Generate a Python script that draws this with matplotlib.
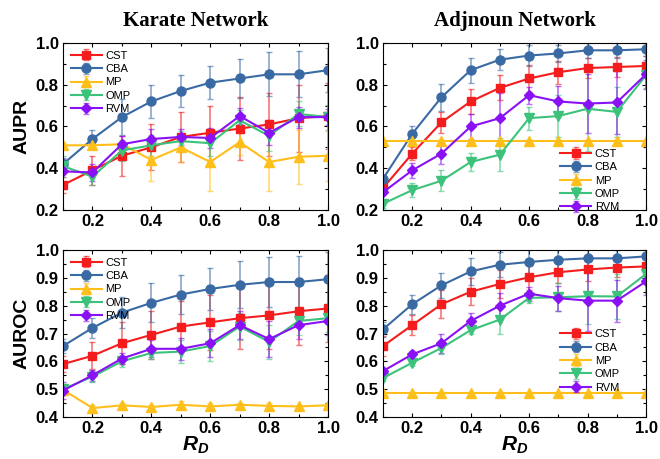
import numpy as np
import matplotlib
matplotlib.use("Agg")
import matplotlib.pyplot as plt
from matplotlib.ticker import MultipleLocator

# sampling ratio R_D
rd = [0.1, 0.2, 0.3, 0.4, 0.5, 0.6, 0.7, 0.8, 0.9, 1.0]
methods = ["CST", "CBA", "MP", "OMP", "RVM"]

# Karate AUPR (mean, err)
kar_aupr_cst = [0.32, 0.39, 0.46, 0.50, 0.55, 0.57, 0.59, 0.61, 0.64, 0.65]
kar_aupr_cst_e = [0.04, 0.07, 0.095, 0.11, 0.12, 0.13, 0.15, 0.15, 0.16, 0.16]
kar_aupr_cba = [0.42, 0.54, 0.645, 0.72, 0.77, 0.81, 0.83, 0.85, 0.85, 0.87]
kar_aupr_cba_e = [0.03, 0.045, 0.085, 0.08, 0.075, 0.08, 0.095, 0.105, 0.11, 0.105]
kar_aupr_mp = [0.51, 0.51, 0.515, 0.44, 0.50, 0.43, 0.525, 0.43, 0.455, 0.46]
kar_aupr_mp_e = [0.01, 0.01, 0.01, 0.10, 0.07, 0.14, 0.06, 0.14, 0.13, 0.12]
kar_aupr_omp = [0.41, 0.36, 0.485, 0.51, 0.53, 0.52, 0.63, 0.555, 0.66, 0.645]
kar_aupr_omp_e = [0.05, 0.04, 0.05, 0.05, 0.05, 0.06, 0.05, 0.07, 0.06, 0.06]
kar_aupr_rvm = [0.385, 0.38, 0.515, 0.54, 0.55, 0.545, 0.65, 0.57, 0.645, 0.645]
kar_aupr_rvm_e = [0.06, 0.04, 0.04, 0.05, 0.04, 0.05, 0.04, 0.06, 0.05, 0.04]

# Adjnoun AUPR
adj_aupr_cst = [0.305, 0.47, 0.62, 0.72, 0.785, 0.83, 0.86, 0.88, 0.885, 0.89]
adj_aupr_cst_e = [0.02, 0.03, 0.05, 0.058, 0.06, 0.065, 0.055, 0.05, 0.05, 0.05]
adj_aupr_cba = [0.35, 0.565, 0.74, 0.87, 0.92, 0.94, 0.95, 0.965, 0.965, 0.97]
adj_aupr_cba_e = [0.02, 0.035, 0.065, 0.06, 0.05, 0.05, 0.04, 0.035, 0.035, 0.03]
adj_aupr_mp = [0.53, 0.53, 0.53, 0.53, 0.53, 0.53, 0.53, 0.53, 0.53, 0.53]
adj_aupr_mp_e = [0.005] * 10
adj_aupr_omp = [0.23, 0.295, 0.34, 0.43, 0.465, 0.64, 0.65, 0.685, 0.67, 0.845]
adj_aupr_omp_e = [0.02, 0.035, 0.05, 0.045, 0.08, 0.055, 0.1, 0.2, 0.12, 0.06]
adj_aupr_rvm = [0.285, 0.39, 0.47, 0.60, 0.64, 0.75, 0.72, 0.71, 0.715, 0.85]
adj_aupr_rvm_e = [0.03, 0.035, 0.05, 0.06, 0.12, 0.04, 0.075, 0.14, 0.15, 0.07]

# Karate AUROC
kar_auroc_cst = [0.59, 0.62, 0.665, 0.695, 0.725, 0.74, 0.755, 0.765, 0.78, 0.79]
kar_auroc_cst_e = [0.028, 0.048, 0.075, 0.085, 0.09, 0.1, 0.11, 0.12, 0.12, 0.12]
kar_auroc_cba = [0.655, 0.72, 0.775, 0.81, 0.84, 0.86, 0.875, 0.885, 0.885, 0.895]
kar_auroc_cba_e = [0.025, 0.037, 0.057, 0.07, 0.07, 0.077, 0.085, 0.09, 0.095, 0.097]
kar_auroc_mp = [0.498, 0.432, 0.442, 0.436, 0.444, 0.438, 0.444, 0.44, 0.438, 0.442]
kar_auroc_mp_e = [0.01, 0.012, 0.01, 0.008, 0.012, 0.012, 0.008, 0.012, 0.006, 0.01]
kar_auroc_omp = [0.50, 0.545, 0.60, 0.63, 0.635, 0.655, 0.725, 0.67, 0.745, 0.755]
kar_auroc_omp_e = [0.02, 0.02, 0.02, 0.02, 0.04, 0.055, 0.05, 0.06, 0.05, 0.05]
kar_auroc_rvm = [0.495, 0.55, 0.61, 0.645, 0.645, 0.665, 0.73, 0.68, 0.73, 0.745]
kar_auroc_rvm_e = [0.03, 0.02, 0.02, 0.03, 0.04, 0.05, 0.05, 0.065, 0.05, 0.05]

# Adjnoun AUROC
adj_auroc_cst = [0.655, 0.73, 0.805, 0.85, 0.878, 0.902, 0.92, 0.93, 0.937, 0.941]
adj_auroc_cst_e = [0.035, 0.035, 0.05, 0.048, 0.05, 0.045, 0.04, 0.04, 0.035, 0.035]
adj_auroc_cba = [0.715, 0.805, 0.873, 0.923, 0.947, 0.957, 0.965, 0.97, 0.97, 0.977]
adj_auroc_cba_e = [0.028, 0.035, 0.045, 0.05, 0.045, 0.045, 0.04, 0.035, 0.03, 0.025]
adj_auroc_mp = [0.487] * 10
adj_auroc_mp_e = [0.004] * 10
adj_auroc_omp = [0.54, 0.595, 0.648, 0.712, 0.75, 0.828, 0.83, 0.834, 0.833, 0.914]
adj_auroc_omp_e = [0.01, 0.012, 0.02, 0.015, 0.05, 0.02, 0.05, 0.1, 0.08, 0.03]
adj_auroc_rvm = [0.565, 0.625, 0.665, 0.745, 0.8, 0.843, 0.827, 0.818, 0.818, 0.887]
adj_auroc_rvm_e = [0.012, 0.012, 0.035, 0.03, 0.045, 0.025, 0.045, 0.11, 0.075, 0.05]

colors = {"CST": "#f41c1c", "CBA": "#3a6aa4", "MP": "#ffbf1a",
          "OMP": "#3cc27a", "RVM": "#8a10f5"}
markers = {"CST": "s", "CBA": "o", "MP": "^", "OMP": "v", "RVM": "D"}
msizes = {"CST": 6, "CBA": 6.5, "MP": 6.5, "OMP": 6.5, "RVM": 5.5}

panels = [
    ((kar_aupr_cst, kar_aupr_cst_e), (kar_aupr_cba, kar_aupr_cba_e),
     (kar_aupr_mp, kar_aupr_mp_e), (kar_aupr_omp, kar_aupr_omp_e),
     (kar_aupr_rvm, kar_aupr_rvm_e)),
    ((adj_aupr_cst, adj_aupr_cst_e), (adj_aupr_cba, adj_aupr_cba_e),
     (adj_aupr_mp, adj_aupr_mp_e), (adj_aupr_omp, adj_aupr_omp_e),
     (adj_aupr_rvm, adj_aupr_rvm_e)),
    ((kar_auroc_cst, kar_auroc_cst_e), (kar_auroc_cba, kar_auroc_cba_e),
     (kar_auroc_mp, kar_auroc_mp_e), (kar_auroc_omp, kar_auroc_omp_e),
     (kar_auroc_rvm, kar_auroc_rvm_e)),
    ((adj_auroc_cst, adj_auroc_cst_e), (adj_auroc_cba, adj_auroc_cba_e),
     (adj_auroc_mp, adj_auroc_mp_e), (adj_auroc_omp, adj_auroc_omp_e),
     (adj_auroc_rvm, adj_auroc_rvm_e)),
]

plt.rcParams["font.family"] = ["Liberation Sans", "DejaVu Sans"]
plt.rcParams["mathtext.fontset"] = "custom"
plt.rcParams["mathtext.it"] = "Liberation Sans:italic:bold"
plt.rcParams["mathtext.bfit"] = "Liberation Sans:italic:bold"
plt.rcParams["mathtext.rm"] = "Liberation Sans:bold"

fig = plt.figure(figsize=(6.6, 4.59), dpi=100)
W, H = 660.0, 459.0
boxes = [(63, 43, 328, 210), (383, 43, 646, 210),
         (63, 250, 328, 417), (383, 250, 646, 417)]
axes = []
for (l, t, r, b) in boxes:
    axes.append(fig.add_axes([l / W, 1 - b / H, (r - l) / W, (b - t) / H]))

for i, ax in enumerate(axes):
    for name, (vals, errs) in zip(methods, panels[i]):
        c = colors[name]
        ax.errorbar(rd, vals, yerr=errs, color=c, lw=1.5, marker=markers[name],
                    ms=msizes[name], capsize=2, elinewidth=1.2, capthick=1.0,
                    ecolor=matplotlib.colors.to_rgba(c, 0.6), label=name)
    ax.set_xlim(0.1, 1.0)
    ax.xaxis.set_major_locator(MultipleLocator(0.2))
    ax.xaxis.set_minor_locator(MultipleLocator(0.1))
    ax.tick_params(which="both", direction="in", top=True, right=True,
                   labelsize=12, width=0.8)
    ax.tick_params(which="major", length=3, pad=3)
    ax.tick_params(which="minor", length=2)
    for sp in ax.spines.values():
        sp.set_linewidth(0.8)

for ax in axes[:2]:
    ax.set_ylim(0.2, 1.0)
    ax.yaxis.set_major_locator(MultipleLocator(0.2))
    ax.yaxis.set_minor_locator(MultipleLocator(0.1))
for ax in axes[2:]:
    ax.set_ylim(0.4, 1.0)
    ax.yaxis.set_major_locator(MultipleLocator(0.1))
    ax.yaxis.set_minor_locator(MultipleLocator(0.05))
    ax.set_xlabel(r"$\mathbfit{R_D}$", fontsize=15, labelpad=-1)
for ax in axes:
    for lab in ax.get_xticklabels() + ax.get_yticklabels():
        lab.set_fontweight("bold")

axes[0].set_ylabel("AUPR", fontsize=14, fontweight="bold", labelpad=4)
axes[2].set_ylabel("AUROC", fontsize=14, fontweight="bold", labelpad=4)
axes[0].set_title("Karate Network", fontsize=15, fontweight="bold",
                  family="Liberation Serif", pad=12)
axes[1].set_title("Adjnoun Network", fontsize=15, fontweight="bold",
                  family="Liberation Serif", pad=12)

leg_kw = dict(frameon=False, fontsize=8, handlelength=2.8, handletextpad=0.3,
              labelspacing=0.3, borderaxespad=0.3)
axes[0].legend(loc="upper left", **leg_kw)
axes[1].legend(loc="lower right", bbox_to_anchor=(0.93, -0.06), **leg_kw)
axes[2].legend(loc="upper left", **leg_kw)
axes[3].legend(loc="lower right", bbox_to_anchor=(0.93, 0.10), **leg_kw)

fig.savefig("out.png", dpi=100)
